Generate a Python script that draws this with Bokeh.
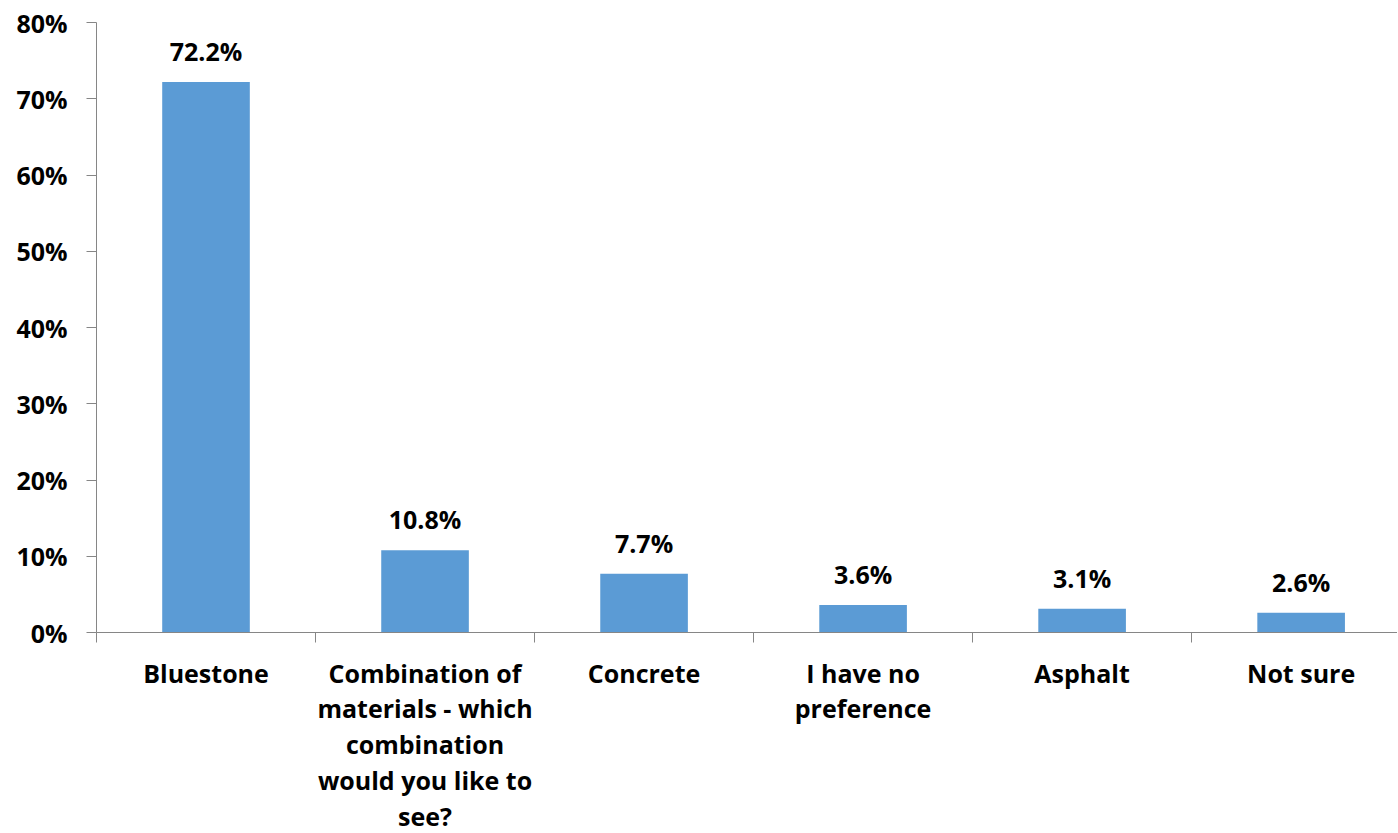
from bokeh.plotting import figure
from bokeh.models import ColumnDataSource, FixedTicker, NumeralTickFormatter, Range1d
from bokeh.core.properties import value
from bokeh.embed import file_html
from bokeh.resources import INLINE

categories = [
    "Bluestone",
    "Combination of\nmaterials - which\ncombination\nwould you like to\nsee?",
    "Concrete",
    "I have no\npreference",
    "Asphalt",
    "Not sure",
]
values = [0.722, 0.108, 0.077, 0.036, 0.031, 0.026]
value_labels = ["72.2%", "10.8%", "7.7%", "3.6%", "3.1%", "2.6%"]
y_ticks = [0.0, 0.1, 0.2, 0.3, 0.4, 0.5, 0.6, 0.7, 0.8]

FONT = "Open Sans"
FS = "25px"
BAR_COLOR = "#5B9BD5"
AXIS_COLOR = "#868686"

n = len(categories)
centers = [i + 0.5 for i in range(n)]
bounds = [float(i) for i in range(n + 1)]

src = ColumnDataSource(dict(x=centers, top=values, label=value_labels))

p = figure(
    frame_width=1301, frame_height=610,
    output_backend="svg", toolbar_location=None,
    x_range=Range1d(0, 5.94), y_range=Range1d(0, 0.8),
    min_border_left=96, min_border_top=22, min_border_right=0, min_border_bottom=0,
)
p.outline_line_color = None
p.xgrid.visible = False
p.ygrid.visible = False
p.background_fill_color = "white"
p.border_fill_color = "white"

p.vbar(x="x", top="top", width=0.4, bottom=0, source=src,
       fill_color=BAR_COLOR, line_color=None)

p.text(x="x", y="top", text="label", source=src,
       text_align="center", text_baseline="bottom", y_offset=-14,
       text_font=value(FONT), text_font_style="bold",
       text_font_size=FS, text_color="black")

# y axis
p.yaxis.ticker = FixedTicker(ticks=y_ticks)
p.yaxis.formatter = NumeralTickFormatter(format="0%")
p.yaxis.axis_line_color = AXIS_COLOR
p.yaxis.major_tick_line_color = AXIS_COLOR
p.yaxis.major_tick_out = 10
p.yaxis.major_tick_in = 0
p.yaxis.minor_tick_line_color = None
p.yaxis.major_label_text_font = FONT
p.yaxis.major_label_text_font_style = "bold"
p.yaxis.major_label_text_font_size = FS
p.yaxis.major_label_text_color = "black"
p.yaxis.major_label_standoff = 19

# x axis
p.xaxis.ticker = FixedTicker(ticks=centers, minor_ticks=bounds)
p.xaxis.major_label_overrides = {c: lab for c, lab in zip(centers, categories)}
p.xaxis.axis_line_color = AXIS_COLOR
p.xaxis.major_tick_line_color = None
p.xaxis.minor_tick_line_color = AXIS_COLOR
p.xaxis.minor_tick_out = 10
p.xaxis.minor_tick_in = 0
p.xaxis.major_tick_out = 10
p.xaxis.major_label_text_font = FONT
p.xaxis.major_label_text_font_style = "bold"
p.xaxis.major_label_text_font_size = FS
p.xaxis.major_label_text_color = "black"
p.xaxis.major_label_text_line_height = 1.055
p.xaxis.major_label_standoff = 13

open("out.html", "w").write(file_html(p, INLINE))
